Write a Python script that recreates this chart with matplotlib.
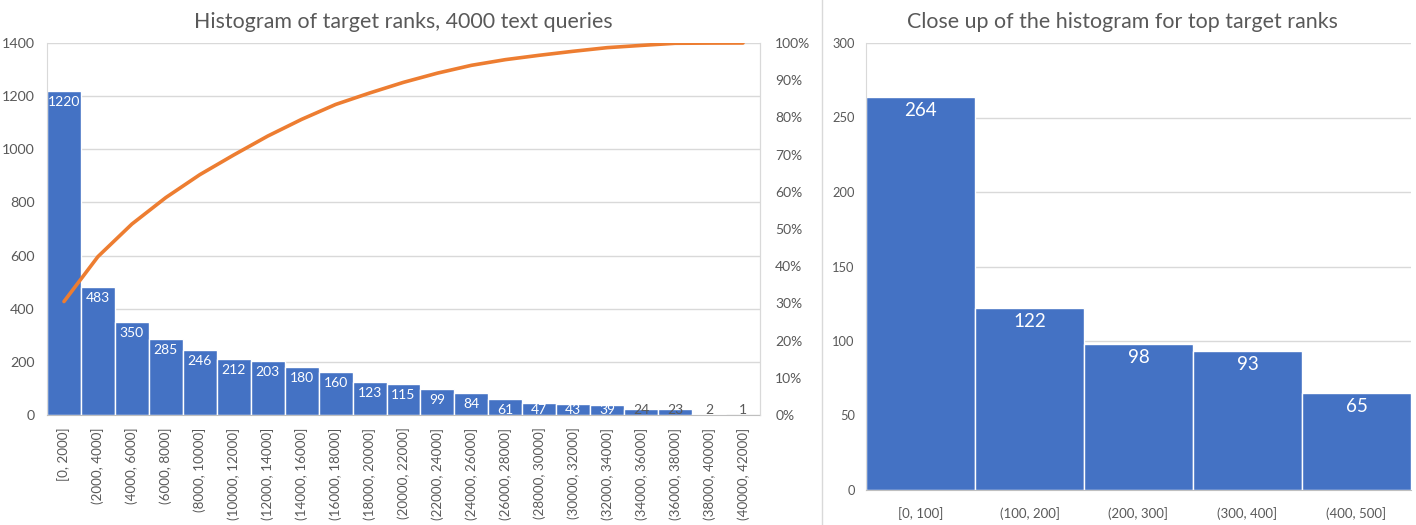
import numpy as np
import matplotlib
matplotlib.use('Agg')
import matplotlib.pyplot as plt
from matplotlib.ticker import PercentFormatter

plt.rcParams['font.family'] = ['Lato', 'DejaVu Sans']

# Data
rank_bins = ['[0, 2000]', '(2000, 4000]', '(4000, 6000]', '(6000, 8000]',
             '(8000, 10000]', '(10000, 12000]', '(12000, 14000]',
             '(14000, 16000]', '(16000, 18000]', '(18000, 20000]',
             '(20000, 22000]', '(22000, 24000]', '(24000, 26000]',
             '(26000, 28000]', '(28000, 30000]', '(30000, 32000]',
             '(32000, 34000]', '(34000, 36000]', '(36000, 38000]',
             '(38000, 40000]', '(40000, 42000]']
rank_counts = [1220, 483, 350, 285, 246, 212, 203, 180, 160, 123, 115, 99,
               84, 61, 47, 43, 39, 24, 23, 2, 1]
top_bins = ['[0, 100]', '(100, 200]', '(200, 300]', '(300, 400]', '(400, 500]']
top_counts = [264, 122, 98, 93, 65]

# Colours
bar_blue = '#4472C4'
line_orange = '#ED7D31'
text_grey = '#595959'
grid_grey = '#D9D9D9'

W, H = 1416, 525
fig = plt.figure(figsize=(W / 100, H / 100), dpi=100)


def px_box(x0, y0, x1, y1):
    return [x0 / W, 1 - y1 / H, (x1 - x0) / W, (y1 - y0) / H]


# ---- Left panel: full histogram + cumulative line ----
ax0 = fig.add_axes(px_box(47, 43, 760, 415))
x = np.arange(len(rank_counts))
ax0.bar(x, rank_counts, width=1.0, color=bar_blue, edgecolor='white',
        linewidth=1.0, zorder=2)
ax0.set_xlim(-0.5, len(rank_counts) - 0.5)
ax0.set_ylim(0, 1400)
ax0.set_yticks(range(0, 1401, 200))
ax0.yaxis.grid(True, color=grid_grey, linewidth=1.0, zorder=0)
ax0.set_axisbelow(True)
ax0.set_xticks(x)
ax0.set_xticklabels(rank_bins, rotation=90, fontsize=9.7, color=text_grey)
ax0.tick_params(axis='y', labelsize=10.3, colors=text_grey, length=0, pad=9)
ax0.tick_params(axis='x', length=0, pad=9)
ax0.spines['top'].set_visible(False)
for s in ['left', 'right']:
    ax0.spines[s].set_color(grid_grey)
ax0.spines['bottom'].set_color('#BFBFBF')

# value labels: white inside the bar, grey near the base for tiny bars
for xi, v in zip(x, rank_counts):
    col = 'white' if v >= 30 else text_grey
    ax0.text(xi, max(v, 60) - 41, str(v), ha='center', va='center',
             fontsize=10, color=col, zorder=3)

ax0.set_title('Histogram of target ranks, 4000 text queries', fontsize=15.4,
              color=text_grey, pad=11)

ax0b = ax0.twinx()
cum_share = np.cumsum(rank_counts) / np.sum(rank_counts)
ax0b.plot(x, cum_share, color=line_orange, linewidth=2.6,
          solid_capstyle='round', zorder=4)
ax0b.set_ylim(0, 1)
ax0b.set_yticks(np.arange(0, 1.01, 0.1))
ax0b.yaxis.set_major_formatter(PercentFormatter(1.0, decimals=0))
ax0b.tick_params(axis='y', labelsize=10, colors=text_grey, length=0, pad=11)
for s in ['top', 'left', 'bottom']:
    ax0b.spines[s].set_visible(False)
ax0b.spines['right'].set_color(grid_grey)

# ---- Separator ----
fig.add_artist(plt.Line2D([822 / W, 822 / W], [0, 1], color=grid_grey,
                          linewidth=1.0))

# ---- Right panel: close up ----
ax1 = fig.add_axes(px_box(866, 43, 1411, 490))
x1 = np.arange(len(top_counts))
ax1.bar(x1, top_counts, width=1.0, color=bar_blue, edgecolor='white',
        linewidth=1.0, zorder=2)
ax1.set_xlim(-0.5, len(top_counts) - 0.5)
ax1.set_ylim(0, 300)
ax1.set_yticks(range(0, 301, 50))
ax1.yaxis.grid(True, color=grid_grey, linewidth=1.0, zorder=0)
ax1.set_axisbelow(True)
ax1.set_xticks(x1)
ax1.set_xticklabels(top_bins, fontsize=9.5, color=text_grey)
ax1.tick_params(axis='y', labelsize=9.3, colors=text_grey, length=0, pad=8)
ax1.tick_params(axis='x', length=0, pad=12)
for s in ['top', 'right']:
    ax1.spines[s].set_visible(False)
ax1.spines['left'].set_color(grid_grey)
ax1.spines['bottom'].set_color('#BFBFBF')

for xi, v in zip(x1, top_counts):
    ax1.text(xi, v - 9, str(v), ha='center', va='center', fontsize=13.5,
             color='white', zorder=3)

ax1.set_title('Close up of the histogram for top target ranks', fontsize=15.4,
              color=text_grey, pad=11, x=0.47)

fig.savefig('out.png', dpi=100, facecolor='white')
